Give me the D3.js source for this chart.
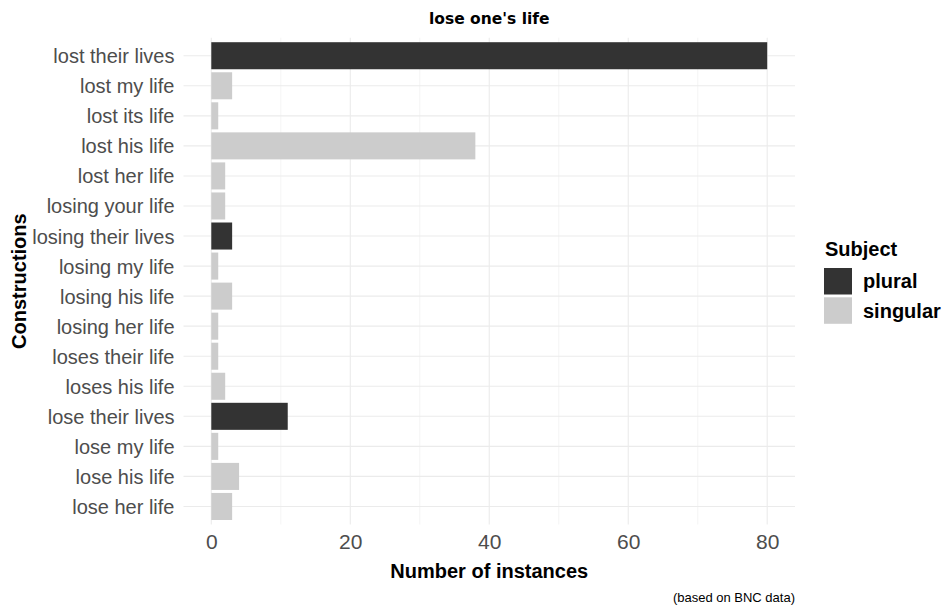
<!DOCTYPE html>
<html><head><meta charset="utf-8">
<script src="https://cdn.jsdelivr.net/npm/d3@7"></script>
<style>body{margin:0;background:#fff}</style>
</head><body>
<script>
const categories = ["lost their lives","lost my life","lost its life","lost his life","lost her life","losing your life","losing their lives","losing my life","losing his life","losing her life","loses their life","loses his life","lose their lives","lose my life","lose his life","lose her life"];
const values = [80,3,1,38,2,2,3,1,3,1,1,2,11,1,4,3];
const subjects = ["plural","singular","singular","singular","singular","singular","plural","singular","singular","singular","singular","singular","plural","singular","singular","singular"];
const groups = ["plural","singular"];
const xTicks = [0,20,40,60,80];
const xMinor = [10,30,50,70];

const W = 945, H = 607;
const m = {left:183.5, right:795, top:37.7, bottom:524.5};
const svg = d3.select("body").append("svg").attr("width",W).attr("height",H);

const x = d3.scaleLinear().domain([-4,84]).range([m.left,m.right]);
const y = d3.scaleBand().domain(categories).range([m.top,m.bottom]).paddingOuter(0.1).paddingInner(0.1);
// ggplot discrete expand: 0.6 units each side, band width 0.9
const n = categories.length;
const step = (m.bottom-m.top)/(n-1+1.2);
const yc = d => m.top + 0.6*step + categories.indexOf(d)*step;
const color = d3.scaleOrdinal().domain(groups).range(["#333333","#cccccc"]);

const g = svg.append("g");
// minor gridlines
g.selectAll(".minor").data(xMinor).join("line")
  .attr("x1",d=>x(d)).attr("x2",d=>x(d)).attr("y1",m.top).attr("y2",m.bottom)
  .attr("stroke","#f1f1f1").attr("stroke-width",0.8);
// major vertical
g.selectAll(".majx").data(xTicks).join("line")
  .attr("x1",d=>x(d)).attr("x2",d=>x(d)).attr("y1",m.top).attr("y2",m.bottom)
  .attr("stroke","#ebebeb").attr("stroke-width",1.1);
// major horizontal
g.selectAll(".majy").data(categories).join("line")
  .attr("x1",m.left).attr("x2",m.right).attr("y1",d=>yc(d)).attr("y2",d=>yc(d))
  .attr("stroke","#ebebeb").attr("stroke-width",1.1);

// bars
const bw = step*0.9;
g.selectAll(".bar").data(categories).join("rect")
  .attr("x",x(0)).attr("y",d=>yc(d)-bw/2)
  .attr("width",(d,i)=>x(values[i])-x(0)).attr("height",bw)
  .attr("fill",(d,i)=>color(subjects[i]));

// y labels
const ya = svg.append("g").attr("transform",`translate(${m.left},0)`)
  .call(d3.axisLeft(d3.scalePoint().domain(categories).range([yc(categories[0]),yc(categories[n-1])])).tickSize(0).tickPadding(9));
ya.select(".domain").remove();
ya.selectAll("text").attr("font-family","Liberation Sans, Arial, sans-serif").attr("font-size",20).attr("fill","#4d4d4d").attr("dy","0.35em");

// x labels
const xa = svg.append("g").attr("transform",`translate(0,${m.bottom})`)
  .call(d3.axisBottom(x).tickValues(xTicks).tickSize(0).tickPadding(10));
xa.select(".domain").remove();
xa.selectAll("text").attr("font-family","Liberation Sans, Arial, sans-serif").attr("font-size",21).attr("fill","#4d4d4d").attr("dy","0.71em");

const F = "Liberation Sans, Arial, sans-serif";
svg.append("text").attr("x",(m.left+m.right)/2).attr("y",24).attr("text-anchor","middle")
  .attr("font-family","DejaVu Sans, sans-serif").attr("font-weight","bold").attr("font-size",15.5).text("lose one's life");
svg.append("text").attr("x",(m.left+m.right)/2).attr("y",578).attr("text-anchor","middle")
  .attr("font-family",F).attr("font-weight","bold").attr("font-size",20).text("Number of instances");
svg.append("text").attr("transform",`translate(26,${(m.top+m.bottom)/2}) rotate(-90)`).attr("text-anchor","middle")
  .attr("font-family",F).attr("font-weight","bold").attr("font-size",20).text("Constructions");
svg.append("text").attr("x",m.right).attr("y",602).attr("text-anchor","end")
  .attr("font-family",F).attr("font-size",13).text("(based on BNC data)");

// legend
const lg = svg.append("g");
lg.append("text").attr("x",825).attr("y",256).attr("font-family",F).attr("font-weight","bold").attr("font-size",20).text("Subject");
groups.forEach((s,i)=>{
  lg.append("rect").attr("x",824).attr("y",268+i*29.3).attr("width",28).attr("height",26.5).attr("fill",color(s));
  lg.append("text").attr("x",863).attr("y",288+i*29.5).attr("font-family",F).attr("font-weight","bold").attr("font-size",20).text(s);
});
</script>
</body></html>
